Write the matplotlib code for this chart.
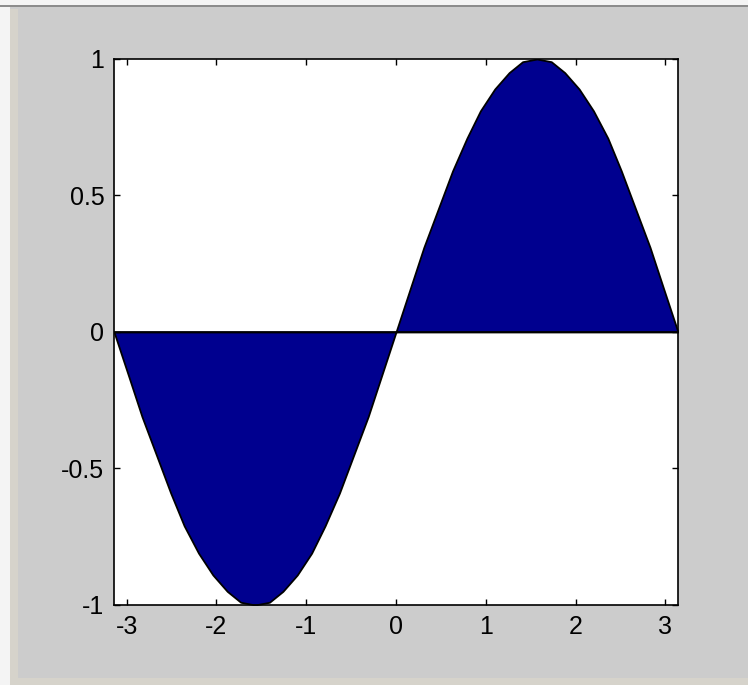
import matplotlib
matplotlib.use('Agg')
import matplotlib.pyplot as plt
from matplotlib.patches import Rectangle

x = [-3.1416, -2.98, -2.83, -2.67, -2.51, -2.36, -2.20, -2.04, -1.88, -1.73,
     -1.57, -1.41, -1.26, -1.10, -0.94, -0.79, -0.63, -0.47, -0.31, -0.16,
     0.0, 0.16, 0.31, 0.47, 0.63, 0.79, 0.94, 1.10, 1.26, 1.41,
     1.57, 1.73, 1.88, 2.04, 2.20, 2.36, 2.51, 2.67, 2.83, 2.98, 3.1416]
y = [0.0, -0.16, -0.31, -0.45, -0.59, -0.71, -0.81, -0.89, -0.95, -0.99,
     -1.0, -0.99, -0.95, -0.89, -0.81, -0.71, -0.59, -0.45, -0.31, -0.16,
     0.0, 0.16, 0.31, 0.45, 0.59, 0.71, 0.81, 0.89, 0.95, 0.99,
     1.0, 0.99, 0.95, 0.89, 0.81, 0.71, 0.59, 0.45, 0.31, 0.16, 0.0]
xticks = [-3, -2, -1, 0, 1, 2, 3]
yticks = [-1, -0.5, 0, 0.5, 1]
yticklabels = ['-1', '-0.5', '0', '0.5', '1']

plt.rcParams['font.family'] = ['Liberation Sans', 'DejaVu Sans']
plt.rcParams['axes.unicode_minus'] = False

fig = plt.figure(figsize=(7.48, 6.85), dpi=100, facecolor='#cccccc')

# window frame bits round the figure
fig.patches.append(Rectangle((0, 0.99), 1, 0.01, transform=fig.transFigure,
                             facecolor='#f4f4f4', edgecolor='none', zorder=0))
fig.patches.append(Rectangle((0, 0.9905), 1, 0.0025, transform=fig.transFigure,
                             facecolor='#8c8c8c', edgecolor='none', zorder=1))
fig.patches.append(Rectangle((0, 0), 0.0135, 0.99, transform=fig.transFigure,
                             facecolor='#f4f4f4', edgecolor='none', zorder=0))
fig.patches.append(Rectangle((0.0135, 0.0), 0.011, 0.987, transform=fig.transFigure,
                             facecolor='#d6d3cb', edgecolor='none', zorder=0))
fig.patches.append(Rectangle((0.0135, 0.0), 0.9865, 0.01, transform=fig.transFigure,
                             facecolor='#d6d3cb', edgecolor='none', zorder=0))

ax = fig.add_axes([0.1524, 0.1168, 0.7540, 0.7971])
ax.set_facecolor('white')
ax.fill_between(x, y, 0, facecolor='#00008f', edgecolor='black', linewidth=1.3)
ax.axhline(0, color='black', linewidth=1.2)

ax.set_xlim(x[0], x[-1])
ax.set_ylim(-1, 1)
ax.set_xticks(xticks)
ax.set_yticks(yticks)
ax.set_yticklabels(yticklabels)
ax.tick_params(direction='in', length=4, width=1, top=True, right=True,
               labelsize=18, pad=7)
for s in ax.spines.values():
    s.set_linewidth(1.2)

fig.savefig('out.png', dpi=100, facecolor=fig.get_facecolor())
